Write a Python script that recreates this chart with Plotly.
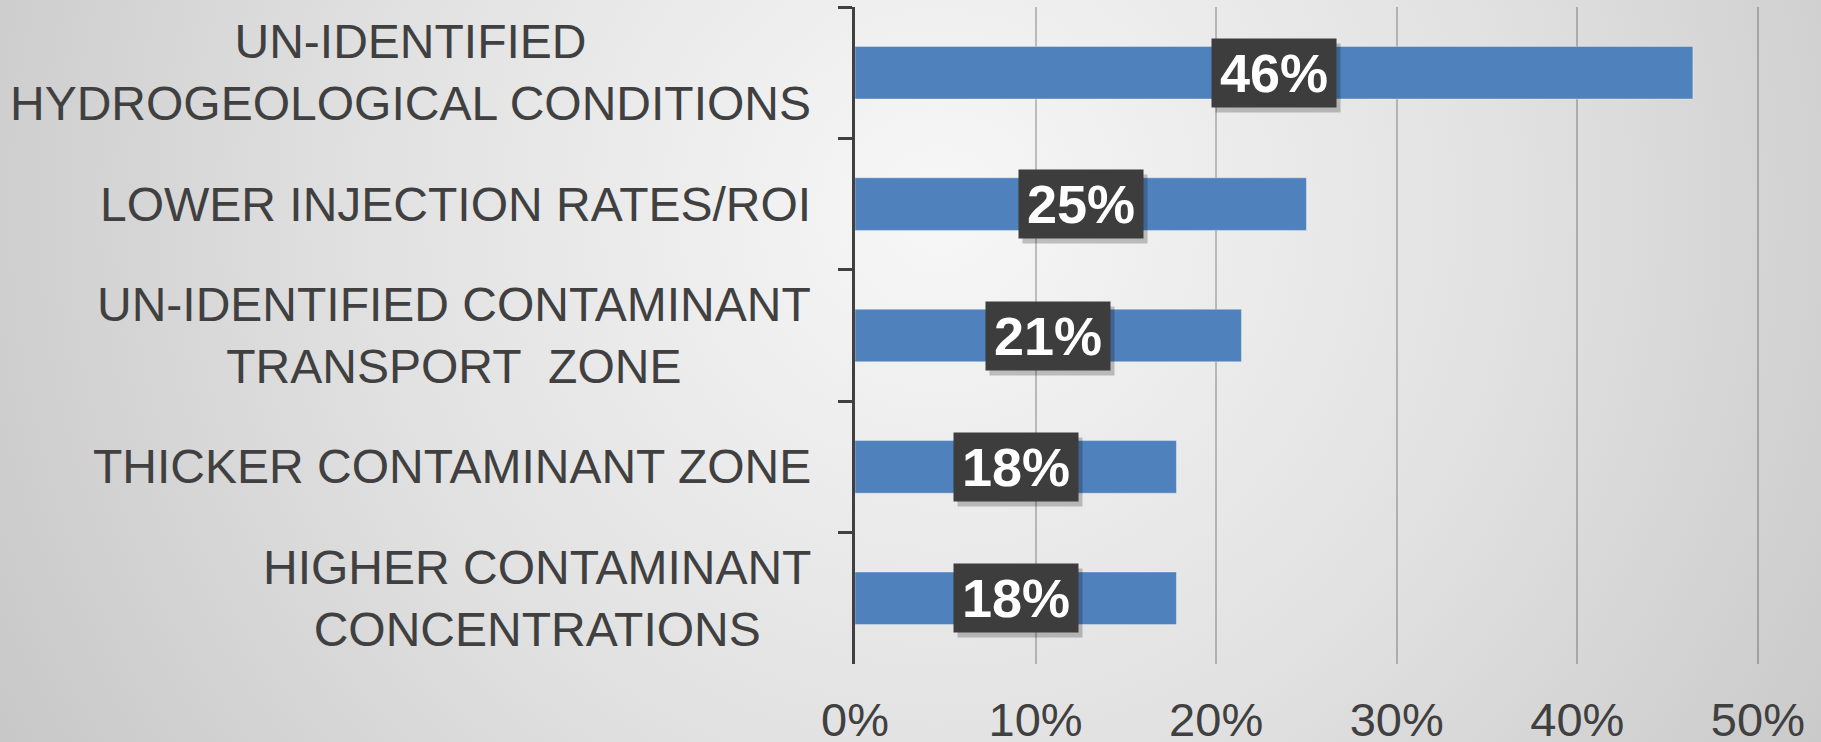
import base64
import plotly.graph_objects as go

# Survey results: reasons cited, listed top to bottom
categories = [
    "UN-IDENTIFIED<br>HYDROGEOLOGICAL CONDITIONS",
    "LOWER INJECTION RATES/ROI",
    "UN-IDENTIFIED CONTAMINANT<br>TRANSPORT\u00a0 ZONE",
    "THICKER CONTAMINANT ZONE",
    "HIGHER CONTAMINANT<br>CONCENTRATIONS",
]
shares = [0.464, 0.250, 0.214, 0.178, 0.178]
x_ticks = [0.0, 0.1, 0.2, 0.3, 0.4, 0.5]
x_tick_labels = ["0%", "10%", "20%", "30%", "40%", "50%"]

W, H = 1821, 742
ML, MR, MT, MB = 855, 27, 7, 78
X_MAX = 0.52

FONT = "Liberation Sans, Arial, sans-serif"
TEXT_COLOR = "#404040"
BAR_COLOR = "#4f81bd"

# soft radial grey backdrop for the whole canvas
svg = (
    f'<svg xmlns="http://www.w3.org/2000/svg" width="{W}" height="{H}" '
    f'viewBox="0 0 {W} {H}" preserveAspectRatio="none">'
    '<defs><radialGradient id="g" gradientUnits="userSpaceOnUse" '
    'cx="940" cy="210" r="1150">'
    '<stop offset="0" stop-color="#f7f7f7"/>'
    '<stop offset="0.5" stop-color="#e1e1e1"/>'
    '<stop offset="1" stop-color="#c4c4c4"/>'
    '</radialGradient></defs>'
    f'<rect width="{W}" height="{H}" fill="url(#g)"/></svg>'
)
bg_src = "data:image/svg+xml;base64," + base64.b64encode(svg.encode()).decode()

pw = W - ML - MR
ph = H - MT - MB

fig = go.Figure(
    go.Bar(
        x=shares,
        y=categories,
        orientation="h",
        marker=dict(color=BAR_COLOR, line=dict(color="rgba(255,255,255,0.35)", width=1)),
        hoverinfo="skip",
    )
)

annotations = []
# value badges centred on each bar, with a soft drop shadow
for cat, v in zip(categories, shares):
    label = f"{round(v * 100)}%"
    common = dict(
        x=v / 2, y=cat, xref="x", yref="y", showarrow=False,
        width=112, height=56, borderpad=6,
        font=dict(family=FONT, size=54, color="white", weight="bold"),
    )
    annotations.append(dict(common, text="\u00a0", bgcolor="rgba(0,0,0,0.22)",
                            xshift=4, yshift=-5))
    annotations.append(dict(common, text=label, bgcolor="#3d3d3d"))

# category captions, lines centred within each block
for cat in categories:
    annotations.append(dict(
        x=0, y=cat, xref="paper", yref="y", text=cat, showarrow=False,
        xanchor="right", yanchor="middle", align="center", xshift=-42,
        font=dict(family=FONT, size=48, color=TEXT_COLOR),
    ))

fig.update_layout(
    width=W, height=H,
    margin=dict(l=ML, r=MR, t=MT, b=MB, pad=0, autoexpand=False),
    paper_bgcolor="#d9d9d9",
    plot_bgcolor="rgba(0,0,0,0)",
    bargap=0.6,
    showlegend=False,
    annotations=annotations,
    images=[dict(
        source=bg_src, xref="paper", yref="paper",
        x=-ML / pw, y=1 + MT / ph, sizex=W / pw, sizey=H / ph,
        xanchor="left", yanchor="top", sizing="stretch", layer="below",
    )],
    xaxis=dict(
        range=[0, X_MAX],
        tickvals=x_ticks, ticktext=x_tick_labels,
        showgrid=True, gridcolor="rgba(0,0,0,0.22)", gridwidth=2,
        zeroline=False, showline=False, ticks="",
        tickfont=dict(family=FONT, size=47, color=TEXT_COLOR),
        ticklabelstandoff=24, automargin=False,
    ),
    yaxis=dict(
        categoryorder="array", categoryarray=categories,
        autorange="reversed", automargin=False,
        showticklabels=False, showgrid=False, zeroline=False,
        showline=True, linecolor=TEXT_COLOR, linewidth=3,
        ticks="outside", ticklen=14, tickwidth=3, tickcolor=TEXT_COLOR,
        tickson="boundaries",
    ),
)

fig.write_html("out.html")
